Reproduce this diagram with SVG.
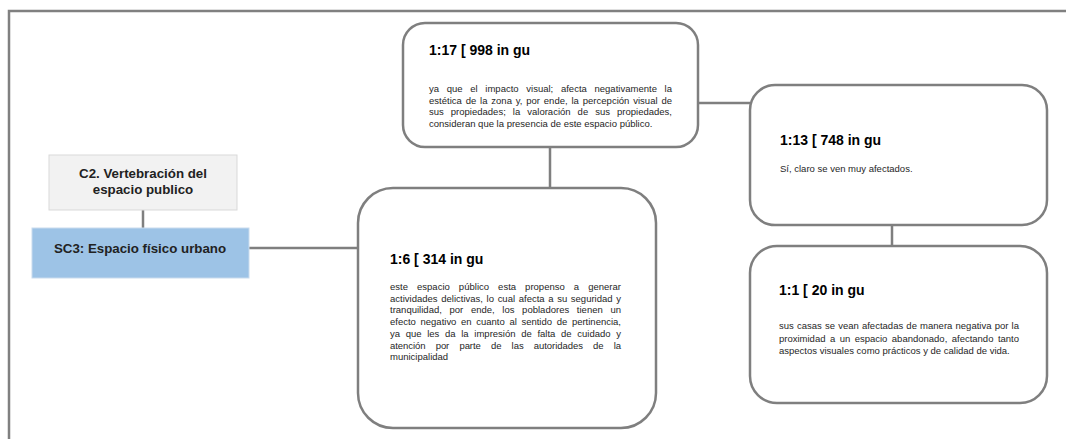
<svg xmlns="http://www.w3.org/2000/svg" width="1066" height="439" viewBox="0 0 1066 439">
<style>
.frame{fill:none;stroke:#808080;stroke-width:2.5}
.card{fill:#ffffff;stroke:#7f7f7f;stroke-width:2.5}
.conn line{stroke:#7f7f7f;stroke-width:2.5}
.title{font-family:"Liberation Sans",Arial,sans-serif;font-weight:bold;font-size:14px;fill:#000}
.body{font-family:"Liberation Sans",Arial,sans-serif;font-size:9.5px;fill:#262626}
.lab{font-family:"Liberation Sans",Arial,sans-serif;font-weight:bold;font-size:13.3px;fill:#222}
</style>
<rect x="0" y="0" width="1066" height="439" fill="#ffffff"/>
<rect class="frame" x="9" y="11" width="1080" height="450"/>
<g id="connectors" class="conn">
<line x1="143" y1="210" x2="143" y2="228"/>
<line x1="249" y1="248" x2="358" y2="248"/>
<line x1="550" y1="147" x2="550" y2="188"/>
<line x1="698" y1="103" x2="750" y2="103"/>
<line x1="892" y1="225" x2="892" y2="246"/>
</g>
<g id="c2">
<rect x="49" y="155" width="188" height="55" fill="#f2f2f2" stroke="#d9d9d9" stroke-width="1"/>
<text class="lab" x="143" y="178" text-anchor="middle">C2. Vertebración del</text>
<text class="lab" x="143" y="194" text-anchor="middle">espacio publico</text>
</g>
<g id="sc3">
<rect x="32" y="228" width="217" height="50" fill="#9dc3e6" stroke="#c9dbee" stroke-width="1"/>
<text class="lab" x="140" y="253" text-anchor="middle" fill="#1a1a1a">SC3: Espacio físico urbano</text>
</g>
<g id="n17">
<rect class="card" x="403" y="23" width="295" height="124" rx="22"/>
<text class="title" x="429" y="55">1:17 [ 998 in gu</text>
<text class="body" x="429" y="92" word-spacing="5" textLength="243" lengthAdjust="spacing">ya que el impacto visual; afecta negativamente la</text>
<text class="body" x="429" y="103.5" word-spacing="1.1" textLength="243" lengthAdjust="spacing">estética de la zona y, por ende, la percepción visual de</text>
<text class="body" x="429" y="115" word-spacing="4.4" textLength="243" lengthAdjust="spacing">sus propiedades; la valoración de sus propiedades,</text>
<text class="body" x="429" y="126.5">consideran que la presencia de este espacio público.</text>
</g>
<g id="n13">
<rect class="card" x="750" y="85" width="297" height="140" rx="25"/>
<text class="title" x="780" y="145">1:13 [ 748 in gu</text>
<text class="body" x="780" y="172">Sí, claro se ven muy afectados.</text>
</g>
<g id="n1">
<rect class="card" x="750" y="246" width="297" height="157" rx="27"/>
<text class="title" x="779" y="295">1:1 [ 20 in gu</text>
<text class="body" x="779" y="329" word-spacing="0.5" textLength="240" lengthAdjust="spacing">sus casas se vean afectadas de manera negativa por la</text>
<text class="body" x="779" y="341.5" word-spacing="1.8" textLength="240" lengthAdjust="spacing">proximidad a un espacio abandonado, afectando tanto</text>
<text class="body" x="779" y="354">aspectos visuales como prácticos y de calidad de vida.</text>
</g>
<g id="n6">
<rect class="card" x="358" y="188" width="298" height="240" rx="35"/>
<text class="title" x="390" y="264">1:6 [ 314 in gu</text>
<text class="body" x="390" y="290" word-spacing="6.4" textLength="231" lengthAdjust="spacing">este espacio público esta propenso a generar</text>
<text class="body" x="390" y="301.7" word-spacing="1" textLength="231" lengthAdjust="spacing">actividades delictivas, lo cual afecta a su seguridad y</text>
<text class="body" x="390" y="313.4" word-spacing="5" textLength="231" lengthAdjust="spacing">tranquilidad, por ende, los pobladores tienen un</text>
<text class="body" x="390" y="325.1" word-spacing="2" textLength="231" lengthAdjust="spacing">efecto negativo en cuanto al sentido de pertinencia,</text>
<text class="body" x="390" y="336.8" word-spacing="3" textLength="231" lengthAdjust="spacing">ya que les da la impresión de falta de cuidado y</text>
<text class="body" x="390" y="348.5" word-spacing="7.6" textLength="231" lengthAdjust="spacing">atención por parte de las autoridades de la</text>
<text class="body" x="390" y="360.2">municipalidad</text>
</g>
</svg>
